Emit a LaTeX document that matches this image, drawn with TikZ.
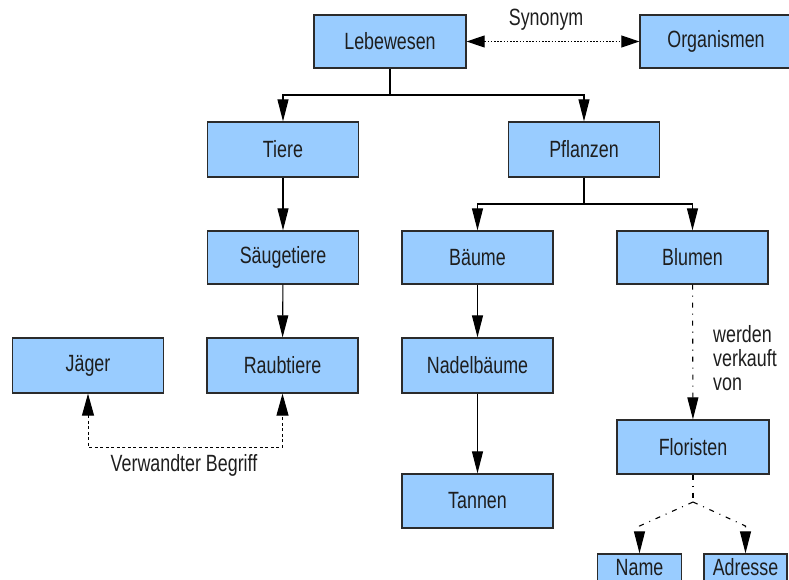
\documentclass[tikz,border=0pt]{standalone}
\usepackage{fontspec}
\setmainfont{Liberation Sans}[FakeStretch=0.76]
\usetikzlibrary{arrows.meta}
\definecolor{boxfill}{HTML}{99CCFF}
\definecolor{boxline}{HTML}{2B2B2B}
\definecolor{ink}{HTML}{1E1E1E}
\tikzset{
  concept/.style={draw=boxline, line width=1.3pt, fill=boxfill, text=ink,
    minimum width=151pt, minimum height=54pt, inner sep=0pt,
    font=\fontsize{23.5}{24}\selectfont},
  lbl/.style={text=ink, inner sep=0pt, font=\fontsize{23.5}{24}\selectfont},
  link/.style={draw=black, line width=1.1pt},
  vtip/.style={-{Triangle[length=22pt,width=11pt]}},
  htips/.style={{Triangle[length=18pt,width=12pt]}-{Triangle[length=18pt,width=12pt]}},
  vtips/.style={{Triangle[length=22pt,width=12pt]}-{Triangle[length=22pt,width=12pt]}},
  dashdot/.style={dash pattern=on 5pt off 6pt on 1pt off 6pt},
}
\begin{document}
\begin{tikzpicture}[x=1pt,y=-1pt]
\useasboundingbox (0,0) rectangle (789,580);
\clip (0,0) rectangle (789,580);

% concept boxes
\node[concept, minimum width=152pt, minimum height=53pt] (leb) at (390,41.5) {Lebewesen};
\node[concept, minimum width=152pt, minimum height=53pt] (org) at (716,41.5) {Organismen};
\node[concept, minimum height=55pt] (tiere) at (283,149.5) {Tiere};
\node[concept, minimum height=55pt] (pfl) at (584,149.5) {Pflanzen};
\node[concept, minimum height=53pt] (saeu) at (283,257.5) {Säugetiere};
\node[concept, minimum height=53pt] (baeume) at (477.5,257.5) {Bäume};
\node[concept, minimum height=53pt] (blumen) at (692.5,257.5) {Blumen};
\node[concept, minimum height=55pt] (jaeger) at (88,365.5) {Jäger};
\node[concept, minimum height=55pt] (raub) at (282.5,365.5) {Raubtiere};
\node[concept, minimum height=55pt] (nadel) at (477.5,365.5) {Nadelbäume};
\node[concept, minimum width=152pt] (flor) at (693,447) {Floristen};
\node[concept] (tannen) at (477.5,501) {Tannen};
\node[concept, minimum width=84pt, minimum height=27pt] (name) at (639.5,567.5) {Name};
\node[concept, minimum width=83pt, minimum height=27pt] (adr) at (745.5,567.5) {Adresse};

% junction points
\coordinate (j1) at (390,95);
\coordinate (j2) at (584,204);
\coordinate (j3) at (693,502);
\coordinate (jn) at (639.5,526);
\coordinate (ja) at (745.5,526);
\coordinate (vb) at (185,447);

% hierarchy
\draw[link, vtip] (leb.south) -- (j1) -| (tiere.north);
\draw[link, vtip] (j1) -| (pfl.north);
\draw[link, vtip] (tiere) -- (saeu);
\draw[link, vtip] (saeu) -- (raub);
\draw[link, vtip] (pfl.south) -- (j2) -| (baeume.north);
\draw[link, vtip] (j2) -| (blumen.north);
\draw[link, vtip] (baeume) -- (nadel);
\draw[link, vtip] (nadel) -- (tannen);

% synonym
\draw[link, htips, line width=1pt, dash pattern=on 1.6pt off 1.6pt] (leb.east) -- (org.west)
  node[lbl, pos=0.46, above=11pt] {Synonym};

% related term
\draw[link, vtips, line width=1pt, dash pattern=on 3pt off 2.5pt] (jaeger.south) |- (vb) -| (raub.south);
\node[lbl] (vblabel) at (184,465) {Verwandter Begriff};

% sold by
\draw[link, vtip, dashdot] (blumen) -- (flor);
\node[lbl, anchor=west, align=left] (sold) at (713,358) {werden\\verkauft\\von};

% attributes
\draw[link, dashdot] (flor.south) -- (j3);
\draw[link, vtip, dashdot] (j3) -- (jn) -- (name.north);
\draw[link, vtip, dashdot] (j3) -- (ja) -- (adr.north);
\end{tikzpicture}
\end{document}
